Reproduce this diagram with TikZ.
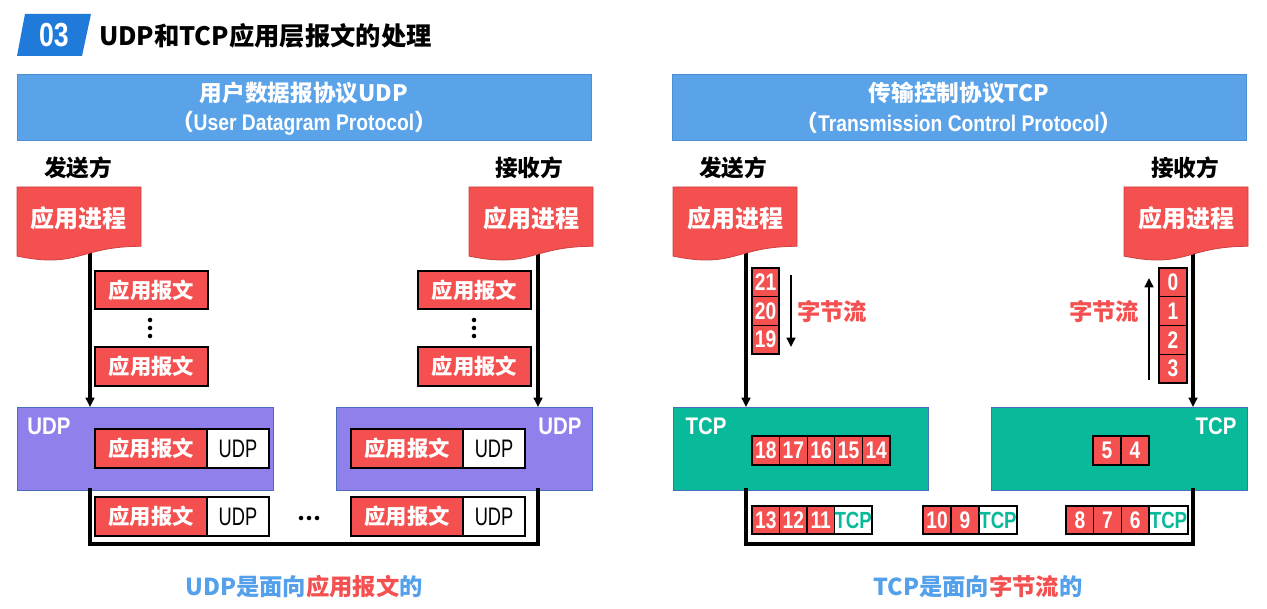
\documentclass[tikz,border=0pt]{standalone}
\usepackage{fontspec}
\setmainfont{Noto Sans CJK SC}
\newfontfamily\narb{Liberation Sans}[FakeStretch=0.85]
\newfontfamily\numf{Liberation Sans}[FakeStretch=0.8]
\newfontfamily\narr{Liberation Sans}[FakeStretch=0.72]
\usetikzlibrary{arrows.meta,calc}
\definecolor{tblue}{RGB}{31,122,218}
\definecolor{hblue}{RGB}{91,163,233}
\definecolor{hborder}{RGB}{75,140,210}
\definecolor{pred}{RGB}{244,80,80}
\definecolor{dred}{RGB}{205,65,65}
\definecolor{upurple}{RGB}{143,128,236}
\definecolor{tteal}{RGB}{8,186,154}
\definecolor{bborder}{RGB}{72,110,185}
\definecolor{btxt}{RGB}{84,160,234}
\newcommand\docshape[1]{%
  \filldraw[docst] (#1,187) -- ({#1+124},187) -- ({#1+124},246.3)
    .. controls ({#1+62},246.3) and ({#1+62},268.9) .. (#1,256.1) -- cycle;}
% box node: style, name, x1, y1, x2, y2, text
\newcommand\bx[7]{%
  \pgfmathsetmacro\bxcx{((#3)+(#5))/2}\pgfmathsetmacro\bxcy{((#4)+(#6))/2}%
  \pgfmathsetmacro\bxw{((#5)-(#3))*0.75}\pgfmathsetmacro\bxh{((#6)-(#4))*0.75}%
  \node[#1, minimum width=\bxw pt, minimum height=\bxh pt] (#2) at (\bxcx,\bxcy) {#7};}
\begin{document}
\begin{tikzpicture}[x=0.75pt,y=-0.75pt,
  every node/.style={inner sep=0pt, outer sep=0pt},
  cell/.style={draw=black, line width=0.8pt, inner sep=0pt},
  rcell/.style={cell, fill=pred, text=white, font=\bfseries\fontsize{16}{16}\selectfont},
  ucell/.style={cell, fill=white, text=black, font=\narr\fontsize{19}{19}\selectfont},
  ncell/.style={cell, fill=pred, text=white, font=\numf\bfseries\fontsize{18}{18}\selectfont},
  tcell/.style={cell, fill=white, text=tteal, font=\numf\bfseries\fontsize{17.5}{17.5}\selectfont},
  hdr/.style={draw=hborder, line width=0.6pt, fill=hblue, inner sep=0pt},
  htxt/.style={text=white, font=\bfseries\fontsize{17}{17}\selectfont},
  side/.style={text=black, font=\bfseries\fontsize{17}{17}\selectfont},
  docst/.style={fill=pred, draw=dred, line width=0.6pt},
  doctxt/.style={text=white, font=\bfseries\fontsize{18}{18}\selectfont},
  layer/.style={draw=bborder, line width=0.7pt, inner sep=0pt},
  lbl/.style={text=white, font=\narb\bfseries\fontsize{18}{18}\selectfont},
  conn/.style={line width=2.6pt, -{Triangle[length=7pt,width=6.5pt]}},
  wire/.style={line width=2.6pt, line cap=rect},
  sarr/.style={line width=1.9pt, -{Triangle[length=7pt,width=6.5pt]}},
  flow/.style={text=pred, font=\bfseries\fontsize{17.5}{17.5}\selectfont},
  foot/.style={font=\bfseries\fontsize{17.5}{17.5}\selectfont},
]
\useasboundingbox (0,0) rectangle (1267,609);

% ---------- title ----------
\fill[tblue] (25,14) -- (91,14) -- (82,56) -- (17,56) -- cycle;
\node[text=white, font=\numf\bfseries\fontsize{25}{25}\selectfont] (num) at (54,35.5) {03};
\node[anchor=west, text=black, font=\bfseries\fontsize{19}{19}\selectfont] (title) at (99,36) {UDP和TCP应用层报文的处理};

% ---------- headers ----------
\bx{hdr}{hL}{17}{74}{591}{140}{}
\node[htxt] (hL1) at (304,93) {用户数据报协议UDP};
\node[htxt] (hL2) at (304,123) {（{\narb\bfseries User Datagram Protocol}）};
\bx{hdr}{hR}{672}{74}{1246}{140}{}
\node[htxt] (hR1) at (959,93) {传输控制协议TCP};
\node[htxt] (hR2) at (959,123) {（{\narb\bfseries Transmission Control Protocol}）};

\node[side] (sndU) at (78,168) {发送方};
\node[side] (rcvU) at (529,168) {接收方};
\node[side] (sndT) at (733,168) {发送方};
\node[side] (rcvT) at (1185,168) {接收方};

% ---------- coordinates for connectors ----------
\coordinate (sL) at (90,250);
\coordinate (sR) at (538,250);
\coordinate (tL) at (746,250);
\coordinate (tR) at (1193,250);
\coordinate (bus) at (0,544);

% ---------- layer boxes ----------
\bx{layer, fill=upurple}{udpL}{17}{407}{273}{490}{}
\bx{layer, fill=upurple}{udpR}{336}{407}{592}{490}{}
\bx{layer, fill=tteal}{tcpL}{673}{407}{928}{490}{}
\bx{layer, fill=tteal}{tcpR}{991}{407}{1247}{490}{}

% ---------- connectors ----------
\draw[conn] (sL) -- (sL |- udpL.north);
\draw[conn] (sR) -- (sR |- udpR.north);
\draw[conn] (tL) -- (tL |- tcpL.north);
\draw[conn] (tR) -- (tR |- tcpR.north);
\draw[wire] (udpL.south -| sL) -- (sL |- bus) -- (sR |- bus) -- (udpR.south -| sR);
\draw[wire] (tcpL.south -| tL) -- (tL |- bus) -- (tR |- bus) -- (tcpR.south -| tR);

% ---------- documents ----------
\docshape{17}
\docshape{469}
\docshape{673}
\docshape{1124}
\node[doctxt] (pUL) at (79,218) {应用进程};
\node[doctxt] (pUR) at (531,218) {应用进程};
\node[doctxt] (pTL) at (735,218) {应用进程};
\node[doctxt] (pTR) at (1186,218) {应用进程};

% ---------- UDP side ----------
\bx{rcell}{mL1}{95}{271}{208}{309}{应用报文}
\bx{rcell}{mL2}{95}{347}{208}{386}{应用报文}
\bx{rcell}{mR1}{418}{271}{531}{309}{应用报文}
\bx{rcell}{mR2}{418}{347}{531}{386}{应用报文}
\foreach \yy in {320,328,336} {
  \fill (150,\yy) circle (1.7pt);
  \fill (474,\yy) circle (1.7pt);
}
\node[lbl] (udpLl) at (49,426) {UDP};
\node[lbl] (udpRl) at (560,426) {UDP};
\bx{rcell}{iL1}{95}{429}{207}{468}{应用报文}
\bx{ucell}{iL2}{207}{429}{269}{468}{UDP}
\bx{rcell}{iR1}{351}{429}{463}{468}{应用报文}
\bx{ucell}{iR2}{463}{429}{525}{468}{UDP}
\bx{rcell}{oL1}{95}{497}{207}{536}{应用报文}
\bx{ucell}{oL2}{207}{497}{269}{536}{UDP}
\bx{rcell}{oR1}{351}{497}{463}{536}{应用报文}
\bx{ucell}{oR2}{463}{497}{525}{536}{UDP}
\foreach \xx in {301,309,317} \fill (\xx,518) circle (1.7pt);

% ---------- TCP side ----------
\foreach \n [count=\i from 0] in {21,20,19}
  {\bx{ncell}{n\n}{752}{268+28.67*\i}{779}{268+28.67*(\i+1)}{\n}}
\foreach \n [count=\i from 0] in {0,1,2,3}
  {\bx{ncell}{n\n}{1159}{268+28.75*\i}{1187}{268+28.75*(\i+1)}{\n}}
\coordinate (fa1) at (791,275);
\coordinate (fa2) at (791,347);
\draw[sarr] (fa1) -- (fa2);
\coordinate (fb1) at (1149,380);
\coordinate (fb2) at (1149,278);
\draw[sarr] (fb1) -- (fb2);
\node[flow] (flowL) at (832,312) {字节流};
\node[flow] (flowR) at (1104,312) {字节流};

\node[lbl] (tcpLl) at (706,426) {TCP};
\node[lbl] (tcpRl) at (1216,426) {TCP};
\foreach \n [count=\i from 0] in {18,17,16,15,14}
  {\bx{ncell}{n\n}{752+27.6*\i}{436}{752+27.6*(\i+1)}{465}{\n}}
\foreach \n [count=\i from 0] in {5,4}
  {\bx{ncell}{n\n}{1093+28*\i}{436}{1093+28*(\i+1)}{465}{\n}}

\foreach \n [count=\i from 0] in {13,12,11}
  {\bx{ncell}{n\n}{752+27.5*\i}{506}{752+27.5*(\i+1)}{534}{\n}}
\bx{tcell}{g1}{834.5}{506}{872}{534}{TCP}
\foreach \n [count=\i from 0] in {10,9}
  {\bx{ncell}{n\n}{923+28*\i}{506}{923+28*(\i+1)}{534}{\n}}
\bx{tcell}{g2}{979}{506}{1017}{534}{TCP}
\foreach \n [count=\i from 0] in {8,7,6}
  {\bx{ncell}{n\n}{1066+27.7*\i}{506}{1066+27.7*(\i+1)}{534}{\n}}
\bx{tcell}{g3}{1149}{506}{1188}{534}{TCP}

% ---------- footers ----------
\node[foot] (footU) at (304,587) {\textcolor{btxt}{UDP是面向}\textcolor{pred}{应用报文}\textcolor{btxt}{的}};
\node[foot] (footT) at (978,587) {\textcolor{btxt}{TCP是面向}\textcolor{pred}{字节流}\textcolor{btxt}{的}};
\end{tikzpicture}
\end{document}
